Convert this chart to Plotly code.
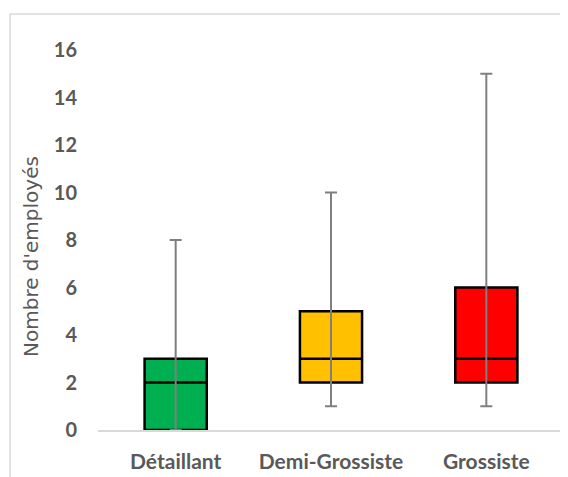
import plotly.graph_objects as go

categories = ["Détaillant", "Demi-Grossiste", "Grossiste"]
mins = [0, 1, 1]
q1s = [0, 2, 2]
medians = [2, 3, 3]
q3s = [3, 5, 6]
maxs = [8, 10, 15]
colors = ["#00B050", "#FFC000", "#FF0000"]
y_ticks = [0, 2, 4, 6, 8, 10, 12, 14, 16]
y_title = "Nombre d'employés"

fig = go.Figure()
for c, a, m, b, col in zip(categories, q1s, medians, q3s, colors):
    fig.add_trace(go.Box(
        x=[c], q1=[a], median=[m], q3=[b], lowerfence=[a], upperfence=[b],
        fillcolor=col, line=dict(color="black", width=2.5), width=0.4,
        whiskerwidth=0, boxpoints=False, hoverinfo="skip", showlegend=False,
    ))

fig.add_trace(go.Scatter(
    x=categories, y=medians, mode="markers", marker=dict(size=0.1, opacity=0),
    error_y=dict(type="data", symmetric=False,
                 array=[mx - md for mx, md in zip(maxs, medians)],
                 arrayminus=[md - mn for md, mn in zip(medians, mins)],
                 color="#7f7f7f", thickness=2, width=6),
    hoverinfo="skip", showlegend=False,
))

fig.update_layout(
    width=560, height=469,
    margin=dict(l=90, r=4, t=42, b=47),
    paper_bgcolor="white", plot_bgcolor="white",
    boxmode="overlay",
    font=dict(family="Lato", color="#595959", size=20),
    xaxis=dict(type="category", showgrid=False, showline=True, linecolor="#d9d9d9",
               linewidth=1.5, ticks="", tickfont=dict(size=21, weight="bold"),
               ticklabelstandoff=12, range=[-0.5, 2.5], fixedrange=True),
    yaxis=dict(range=[0, 16], tickvals=y_ticks, showgrid=False, zeroline=False,
               showline=False, ticks="", tickfont=dict(size=20, weight="bold"),
               ticklabelstandoff=20),
    annotations=[dict(text=y_title, xref="paper", yref="paper", x=-0.1438, y=0.458,
                      xanchor="center", yanchor="middle", textangle=-90, showarrow=False,
                      font=dict(family="DejaVu Sans", size=20, color="#595959"))],
    shapes=[dict(type="rect", xref="paper", yref="paper",
                 x0=-0.1888, x1=1.05, y0=-0.2, y1=1.0947,
                 line=dict(color="#d9d9d9", width=1.5), fillcolor="rgba(0,0,0,0)",
                 layer="below")],
)

fig.write_html("out.html")
